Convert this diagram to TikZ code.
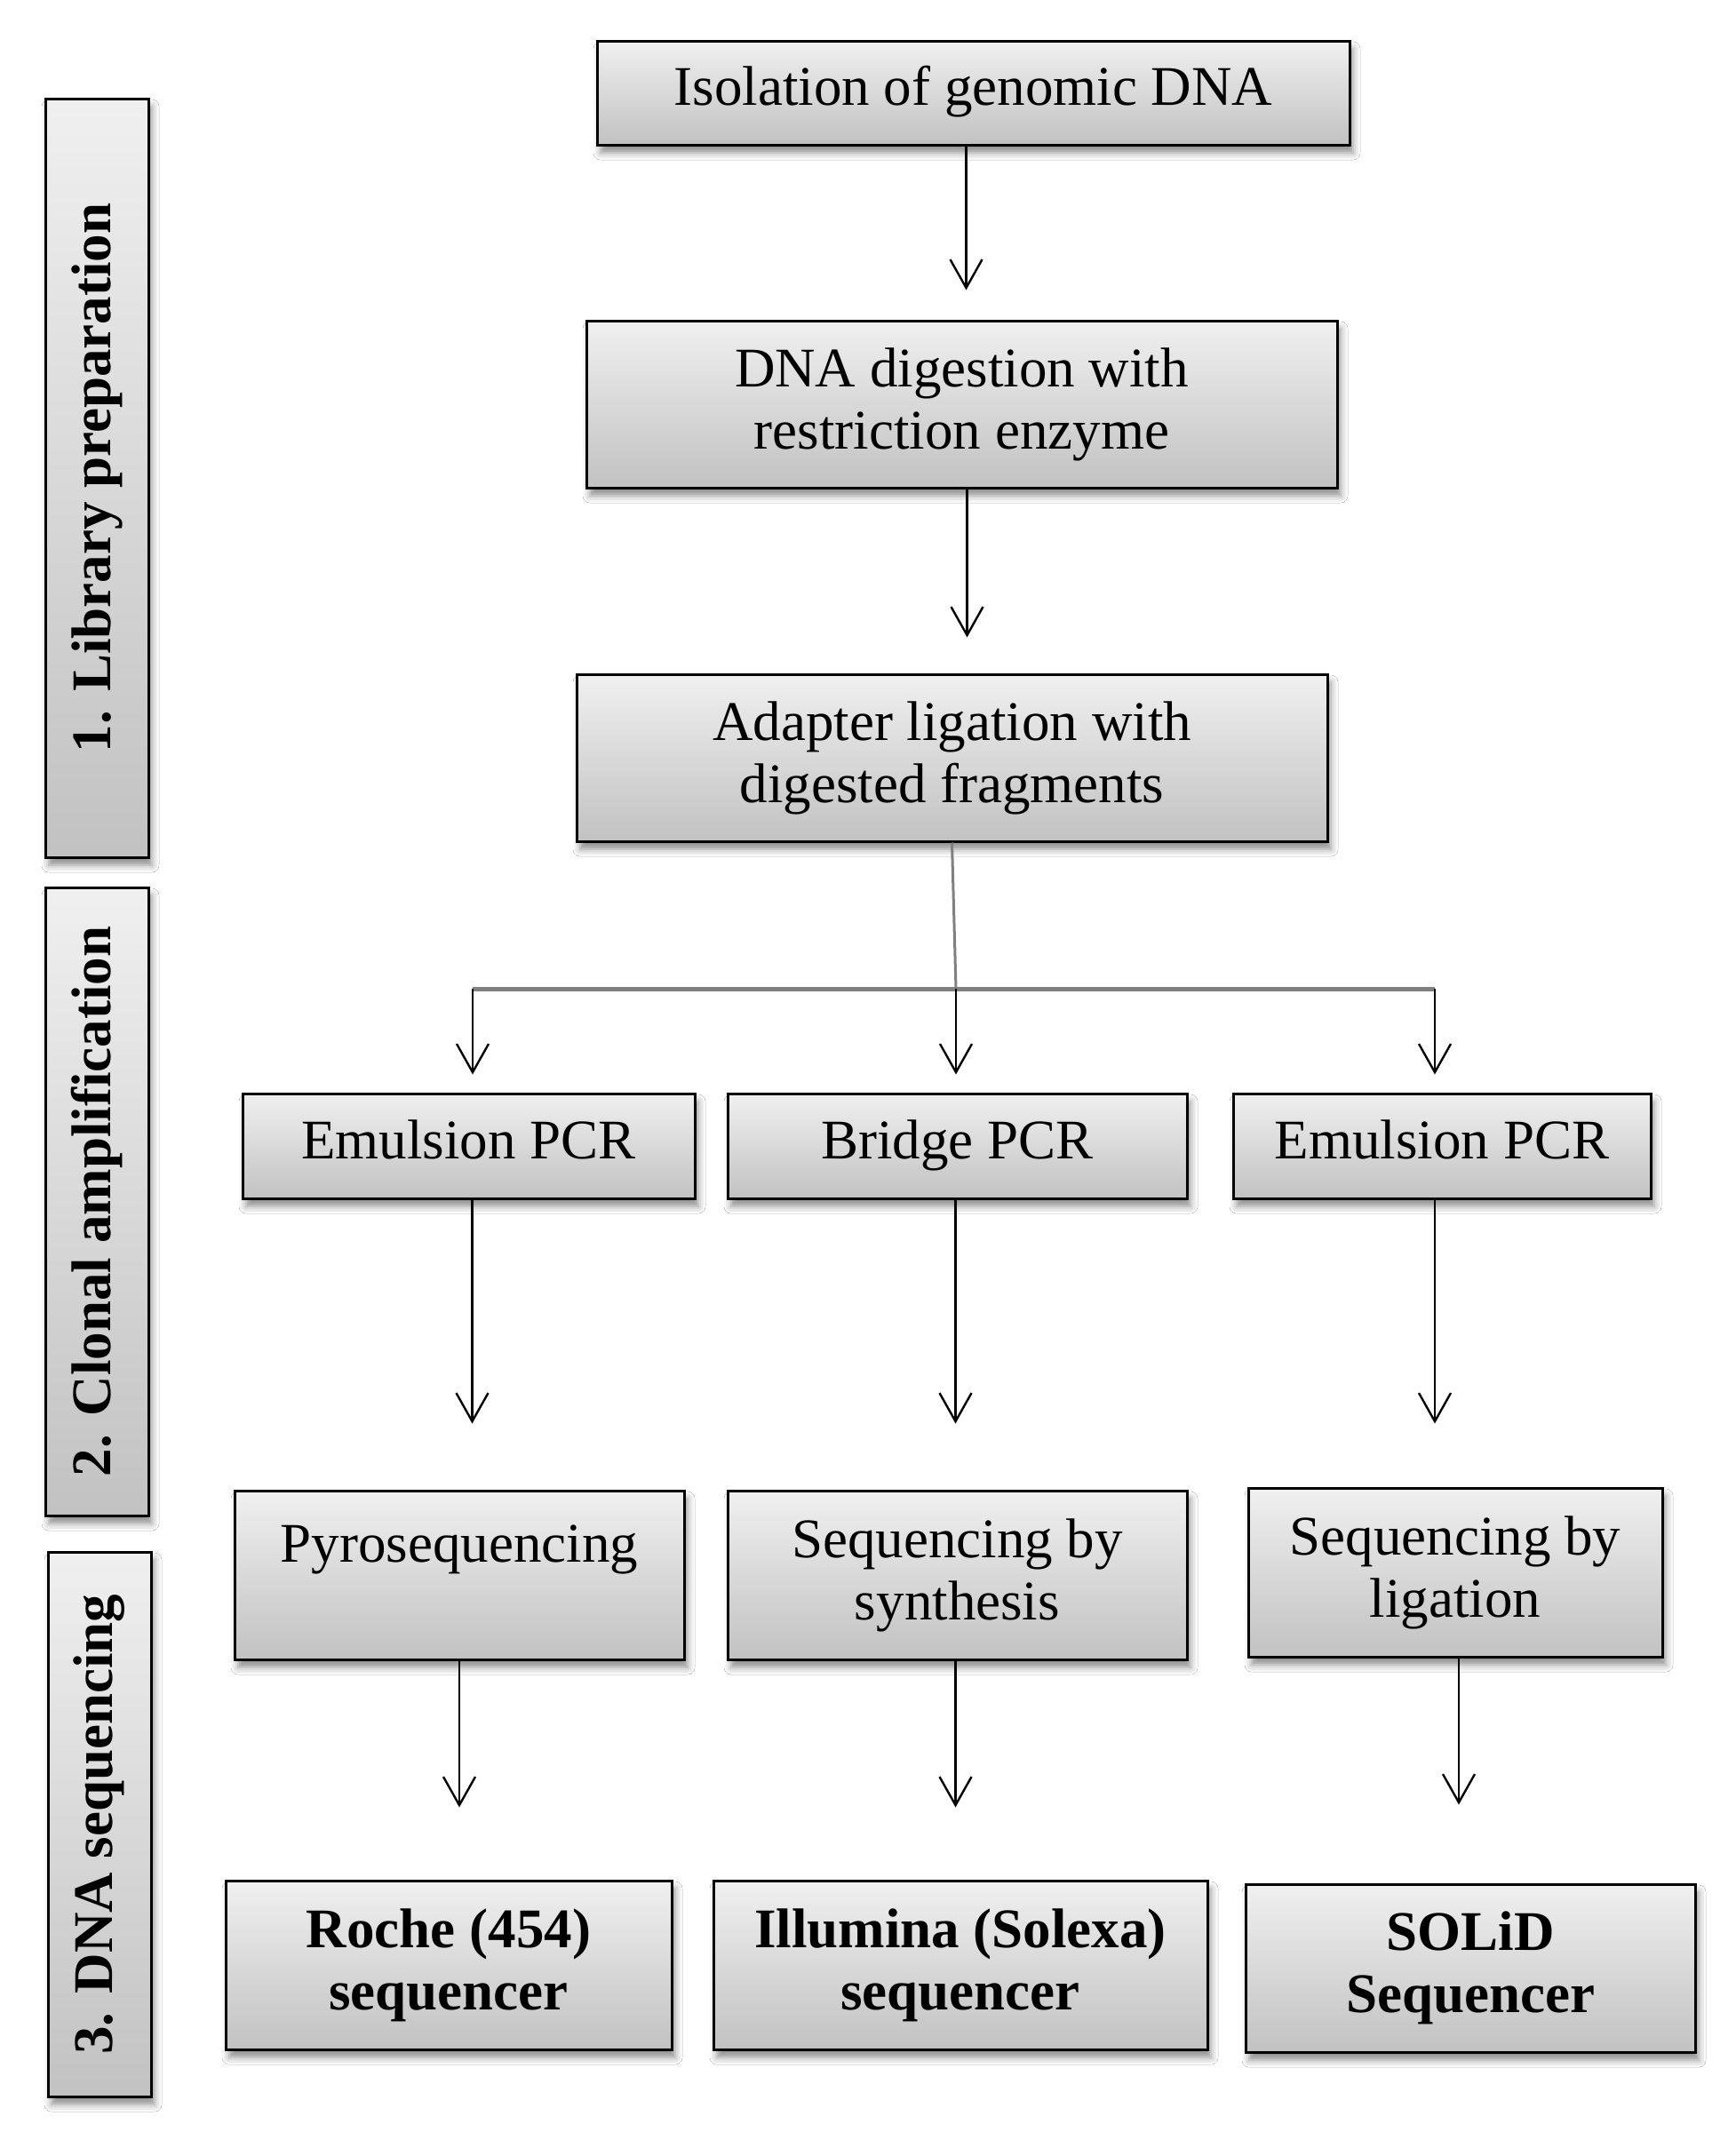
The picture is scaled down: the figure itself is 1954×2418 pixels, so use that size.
\documentclass[tikz,border=0pt]{standalone}
\usepackage{fontspec}
\setmainfont{Liberation Serif}
\usetikzlibrary{arrows.meta,shadows.blur,calc}
\begin{document}
\begin{tikzpicture}[x=1pt,y=-1pt,
  procbox/.style={draw=black, line width=3pt, top color=white!94!black, bottom color=white!76!black,
    align=center, inner sep=0pt, font=\fontsize{63}{70}\selectfont,
    blur shadow={shadow xshift=4pt, shadow yshift=-9pt, shadow blur radius=8pt, shadow opacity=45}},
  sidebox/.style={procbox, rotate=90},
  arr/.style={draw=black, line width=2.4pt, -{Straight Barb[length=32pt, width=36pt, line width=2.4pt]}},
  gline/.style={draw=black!50, line width=3pt},
  hline/.style={draw=black!50, line width=5pt},
]
\useasboundingbox[fill=white] (0,0) rectangle (1954,2418);

% side boxes
\node[sidebox, minimum width=854pt, minimum height=116pt] (s1) at (109,538) {\bfseries 1. Library preparation};
\node[sidebox, minimum width=707pt, minimum height=116pt] (s2) at (109,1352.5) {\bfseries 2. Clonal amplification};
\node[sidebox, minimum width=613pt, minimum height=116pt] (s3) at (112,2053.5) {\bfseries 3. DNA sequencing};

% main column
\node[procbox, minimum width=847pt, minimum height=117pt] (iso) at (1095.5,104.5) {\strut Isolation of genomic DNA};
\node[procbox, minimum width=845pt, minimum height=188pt] (dig) at (1082.5,455) {DNA digestion with\\restriction enzyme};
\node[procbox, minimum width=845pt, minimum height=188pt] (adp) at (1071.5,853) {Adapter ligation with\\digested fragments};

% row 4
\node[procbox, minimum width=509pt, minimum height=118pt] (em1) at (527.5,1290) {\strut Emulsion PCR};
\node[procbox, minimum width=517pt, minimum height=118pt] (br) at (1077.5,1290) {\strut Bridge PCR};
\node[procbox, minimum width=470pt, minimum height=118pt] (em2) at (1623,1290) {\strut Emulsion PCR};

% row 5
\node[procbox, minimum width=506pt, minimum height=190pt] (pyro) at (517,1773) {Pyrosequencing\\~};
\node[procbox, minimum width=517pt, minimum height=190pt] (sbs) at (1077.5,1773) {Sequencing by\\synthesis};
\node[procbox, minimum width=466pt, minimum height=190pt] (sbl) at (1638,1770) {Sequencing by\\ligation};

% row 6
\node[procbox, minimum width=502pt, minimum height=190pt] (roche) at (505,2212) {\bfseries Roche (454)\\\bfseries sequencer};
\node[procbox, minimum width=556pt, minimum height=190pt] (illu) at (1081,2212) {\bfseries Illumina (Solexa)\\\bfseries sequencer};
\node[procbox, minimum width=506pt, minimum height=189pt] (solid) at (1655,2215.5) {\bfseries SOLiD\\\bfseries Sequencer};

% connectors
\coordinate (a1) at ($(iso.south)+(-8,0)$);
\draw[arr, shorten >=33pt] (a1) -- (a1 |- dig.north);
\coordinate (a2) at ($(dig.south)+(6,0)$);
\draw[arr, shorten >=40pt] (a2) -- (a2 |- adp.north);

\coordinate (jl) at (532,1113);
\coordinate (jm) at (1076,1113);
\coordinate (jr) at (1615,1113);
\draw[gline] (adp.south) -- (jm);
\draw[hline] (jl) -- (jr);
\draw[arr, shorten >=20pt] (jl) -- (jl |- em1.north);
\draw[arr, shorten >=20pt] (jm) -- (jm |- br.north);
\draw[arr, shorten >=20pt] (jr) -- (jr |- em2.north);

\coordinate (b1) at ($(em1.south)+(4,0)$);
\coordinate (b2) at ($(br.south)+(-2,0)$);
\coordinate (b3) at ($(em2.south)+(-8,0)$);
\draw[arr, shorten >=74pt] (b1) -- (b1 |- pyro.north);
\draw[arr, shorten >=74pt] (b2) -- (b2 |- sbs.north);
\draw[arr, shorten >=71pt] (b3) -- (b3 |- sbl.north);

\coordinate (c1) at (pyro.south);
\coordinate (c2) at ($(sbs.south)+(-2,0)$);
\coordinate (c3) at ($(sbl.south)+(4,0)$);
\draw[arr, shorten >=81pt] (c1) -- (c1 |- roche.north);
\draw[arr, shorten >=81pt] (c2) -- (c2 |- illu.north);
\draw[arr, shorten >=88pt] (c3) -- (c3 |- solid.north);
\end{tikzpicture}
\end{document}
